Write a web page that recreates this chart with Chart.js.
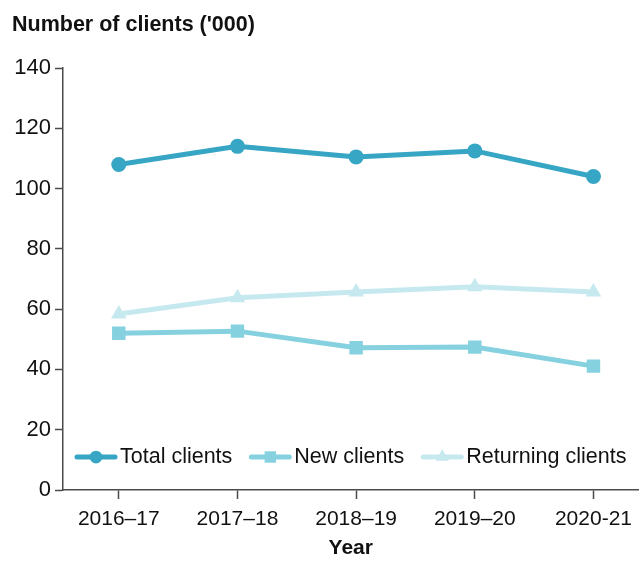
<!DOCTYPE html>
<html><head><meta charset="utf-8">
<script src="https://cdn.jsdelivr.net/npm/chart.js@4/dist/chart.umd.min.js"></script>
<style>html,body{margin:0;padding:0;background:#fff}#wrap{width:640px;height:561px}</style>
</head><body><div id="wrap"><canvas id="c" width="640" height="561"></canvas></div>
<script>
const categories = ['2016\u201317','2017\u201318','2018\u201319','2019\u201320','2020-21'];
const totalClients = [108, 114, 110.5, 112.5, 104];
const newClients = [52, 52.7, 47.2, 47.4, 41.1];
const returningClients = [58.4, 63.8, 65.7, 67.4, 65.7];
const yTicks = [0,20,40,60,80,100,120,140];

const FONT = "'Liberation Sans', Arial, sans-serif";
const AX = '#4a4a4a';
const series = [
  {label:'Total clients', data: totalClients, color:'#37a6c4', style:'circle', r:7.5},
  {label:'New clients', data: newClients, color:'#86d1df', style:'rect', r:9.5},
  {label:'Returning clients', data: returningClients, color:'#c6e9f0', style:'triangle', r:9}
];

function marker(ctx, style, x, y, r, color){
  ctx.fillStyle = color;
  ctx.beginPath();
  if(style==='circle'){ ctx.arc(x,y,r,0,Math.PI*2); }
  else if(style==='rect'){ const s=r*Math.SQRT1_2; ctx.rect(x-s,y-s,2*s,2*s); }
  else { ctx.moveTo(x, y - r); ctx.lineTo(x + r*0.866, y + r*0.5); ctx.lineTo(x - r*0.866, y + r*0.5); ctx.closePath(); }
  ctx.fill();
}

const overlay = {
  id:'overlay',
  afterDraw(chart){
    const ctx = chart.ctx;
    ctx.save();
    ctx.fillStyle = '#111';
    ctx.font = "bold 21.5px " + FONT;
    ctx.textBaseline = 'middle';
    ctx.textAlign = 'left';
    ctx.fillText("Number of clients ('000)", 12, 25);
    // legend
    ctx.font = "21.5px " + FONT;
    let x = 77; const y = 457;
    series.forEach(s=>{
      ctx.strokeStyle = s.color; ctx.lineWidth = 5; ctx.lineCap='round';
      ctx.beginPath(); ctx.moveTo(x, y); ctx.lineTo(x+38, y); ctx.stroke();
      marker(ctx, s.style, x+19, y, s.r*0.85, s.color);
      ctx.fillStyle = '#111';
      ctx.fillText(s.label, x+43, y);
      x += 43 + ctx.measureText(s.label).width + 19;
    });
    ctx.restore();
  }
};

new Chart(document.getElementById('c'), {
  type:'line',
  data:{
    datasets: series.map(s=>({
      label:s.label,
      data: s.data.map((v,i)=>({x:i,y:v})),
      borderColor:s.color, backgroundColor:s.color,
      borderWidth:5, pointStyle:s.style, pointRadius:s.r, pointHoverRadius:s.r,
      pointBorderWidth:0, tension:0
    }))
  },
  options:{
    responsive:false, animation:false,
    layout:{autoPadding:false, padding:{top:68, right:0, left:0, bottom:0}},
    plugins:{legend:{display:false}, title:{display:false}, tooltip:{enabled:false}},
    scales:{
      x:{
        type:'linear', min:-0.47, max:4.38,
        afterBuildTicks(scale){ scale.ticks = categories.map((c,i)=>({value:i})); },
        afterFit(scale){ scale.height = 71; },
        grid:{drawOnChartArea:false, drawTicks:true, tickLength:9, color:AX, tickWidth:1.5},
        border:{display:true, color:AX, width:1.5},
        ticks:{color:'#111', font:{family:FONT, size:21}, padding:8, maxRotation:0, autoSkip:false,
          callback:(v)=>categories[v] },
        title:{display:true, text:'Year', color:'#111', font:{family:FONT, size:21, weight:'bold'}, padding:{top:7,bottom:0}}
      },
      y:{
        min:0, max:140,
        afterBuildTicks(scale){ scale.ticks = yTicks.map(v=>({value:v})); },
        afterFit(scale){ scale.width = 63; },
        grid:{drawOnChartArea:false, drawTicks:true, tickLength:8, color:AX, tickWidth:1.5},
        border:{display:true, color:AX, width:1.5},
        ticks:{color:'#111', font:{family:FONT, size:22}, padding:4}
      }
    }
  },
  plugins:[overlay]
});
</script></body></html>
